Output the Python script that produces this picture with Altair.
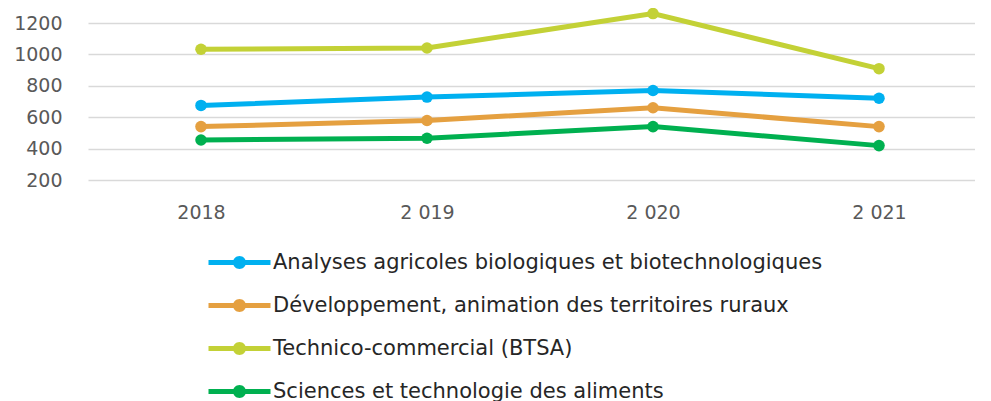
import altair as alt
import pandas as pd

years = ["2018", "2 019", "2 020", "2 021"]
series_names = [
    "Analyses agricoles biologiques et biotechnologiques",
    "Développement, animation des territoires ruraux",
    "Technico-commercial (BTSA)",
    "Sciences et technologie des aliments",
]
analyses = [675, 728, 770, 721]
developpement = [540, 579, 660, 540]
technico = [1033, 1041, 1260, 909]
sciences = [455, 466, 540, 419]
colors = ["#00B0F0", "#E5A040", "#C3D136", "#00B050"]
y_ticks = [200, 400, 600, 800, 1000, 1200]

rows = []
for name, vals in zip(series_names, [analyses, developpement, technico, sciences]):
    for i, (yr, v) in enumerate(zip(years, vals)):
        rows.append({"Année": yr, "idx": i, "Valeur": v, "Série": name})
df = pd.DataFrame(rows)

FONT = "DejaVu Sans"

legend_path = (
    "M-3.1,-0.25 L3.1,-0.25 L3.1,0.25 L-3.1,0.25 Z "
    "M-0.65,0 A0.65,0.65 0 1,1 0.65,0 A0.65,0.65 0 1,1 -0.65,0 Z"
)

chart = alt.Chart(df).mark_line(
    strokeWidth=5,
    point=alt.OverlayMarkDef(size=133, filled=True, opacity=1),
    clip=False,
).encode(
    x=alt.X(
        "Année:O",
        sort=years,
        scale=alt.Scale(type="point", range=[0, 904], padding=0.5),
        axis=alt.Axis(
            title=None,
            labelAngle=0,
            domain=False,
            ticks=False,
            grid=False,
            labelPadding=23,
            labelFontSize=19,
            labelColor="#595959",
            labelFont=FONT,
        ),
    ),
    y=alt.Y(
        "Valeur:Q",
        scale=alt.Scale(domain=[200, 1200], nice=False, zero=False),
        axis=alt.Axis(
            title=None,
            values=y_ticks,
            format="d",
            domain=False,
            ticks=False,
            labelPadding=26,
            labelFontSize=19,
            labelColor="#595959",
            labelFont=FONT,
            gridColor="#D9D9D9",
            gridWidth=1.5,
        ),
    ),
    color=alt.Color(
        "Série:N",
        sort=series_names,
        scale=alt.Scale(domain=series_names, range=colors),
        legend=alt.Legend(
            title=None,
            orient="none",
            legendX=141,
            legendY=229,
            direction="vertical",
            symbolType=legend_path,
            symbolSize=400,
            symbolStrokeWidth=0,
            symbolOpacity=1,
            labelOffset=23,
            rowPadding=21,
            labelFontSize=21,
            labelFont=FONT,
            labelColor="#262626",
            labelLimit=800,
            padding=0,
            symbolOffset=0,
        ),
    ),
    order=alt.Order("idx:Q"),
).properties(
    width=887,
    height=157,
    background="white",
    autosize=alt.AutoSizeParams(type="none"),
    padding={"left": 80, "top": 15, "right": 0, "bottom": 221},
).configure_view(stroke=None)

chart.save("out.html", embed_options={"renderer": "svg", "actions": False})
